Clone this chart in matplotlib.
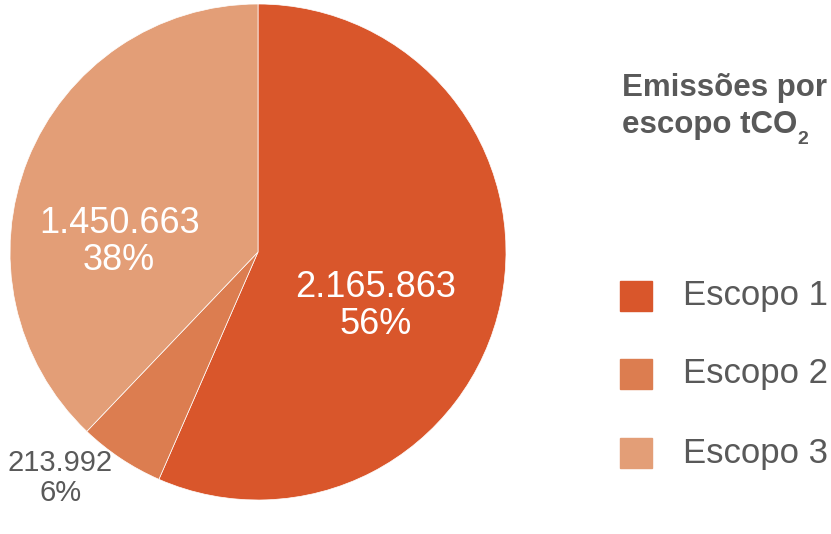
import matplotlib.pyplot as plt

plt.rcParams['font.family'] = ['Liberation Sans', 'DejaVu Sans']

scopes = ['Escopo 1', 'Escopo 2', 'Escopo 3']
emissions = [2165863, 213992, 1450663]
shares = [56, 6, 38]
colors = ['#D9562B', '#DC7D50', '#E39E77']

# label anchor per wedge (axes data units) and text colour
label_pos = [(0.476, -0.218), (-0.798, -0.911), (-0.560, 0.040)]
label_color = ['white', '#595959', 'white']
label_size = [26, 21, 26]

fig = plt.figure(figsize=(8.31, 5.34), dpi=100)
ax = fig.add_axes([10 / 831, 34 / 534, 496 / 831, 496 / 534])
wedges, _ = ax.pie(emissions, colors=colors, startangle=90, counterclock=False,
                   radius=1, wedgeprops=dict(edgecolor='white', linewidth=0.5))
ax.set_xlim(-1, 1)
ax.set_ylim(-1, 1)
ax.set_aspect('equal')
ax.axis('off')

for v, p, (x, y), c, s in zip(emissions, shares, label_pos, label_color, label_size):
    txt = f"{v:,}".replace(',', '.') + f"\n{p}%"
    ax.text(x, y, txt, ha='center', va='center', color=c, fontsize=s,
            linespacing=1.1)

fig.text(622 / 831, 1 - 88 / 534, 'Emissões por', fontsize=22.5, weight='bold',
         color='#595959', ha='left', va='center')
fig.text(622 / 831, 1 - 125 / 534, 'escopo tCO', fontsize=22.5,
         weight='bold', color='#595959', ha='left', va='center')
fig.text(797 / 831, 1 - 140 / 534, '2', fontsize=14, weight='bold',
         color='#595959', ha='left', va='center')

legend_y = [296, 374, 453]
for name, c, yp in zip(scopes, colors, legend_y):
    fig.patches.append(plt.Rectangle((620 / 831, 1 - (yp + 15) / 534), 32 / 831, 30 / 534,
                                     transform=fig.transFigure, color=c))
    fig.text(683 / 831, 1 - yp / 534, name, fontsize=25, color='#595959',
             ha='left', va='center')

fig.savefig('out.png', dpi=100)
